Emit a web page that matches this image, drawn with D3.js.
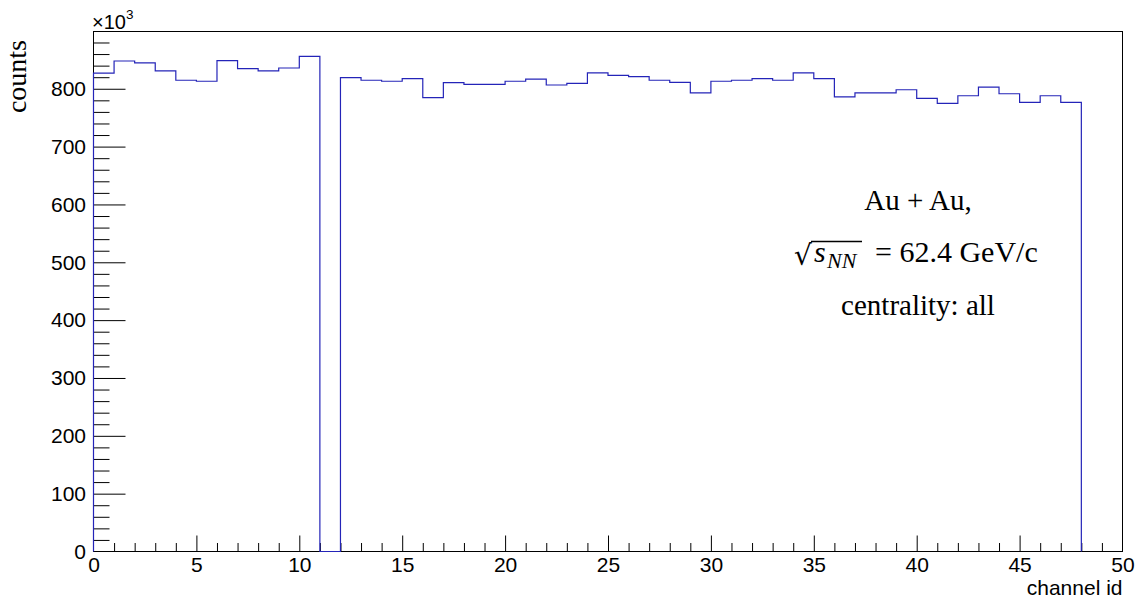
<!DOCTYPE html>
<html>
<head>
<meta charset="utf-8">
<script src="https://cdn.jsdelivr.net/npm/d3@7"></script>
<style>
  html, body { margin: 0; padding: 0; background: #fff; }
  svg { display: block; }
  .tick text { font-family: "Liberation Sans", Arial, sans-serif; font-size: 21px; fill: #000; }
  .tick line { stroke: #000; }
</style>
</head>
<body>
<svg id="chart" width="1141" height="602"></svg>
<script>
// Counts per channel, in units of 10^3 (channel 11 is empty)
const channelCountsK = [
  827, 848, 844.7, 831, 814.7, 813, 848.8, 834.7, 831, 835.9,
  855.9, 0, 819.4, 814.7, 813, 817.6, 784.7, 810.6, 807.6, 807.6,
  813, 816.5, 806.5, 809.4, 827.6, 823, 821, 814.7, 811, 793,
  813, 814.7, 817.6, 814.7, 827.6, 817.6, 785.9, 793, 793, 798.3,
  783.4, 774.7, 787.9, 803, 791.4, 776.5, 787.9, 776.5
];
const xDomain = [0, 50];
const yDomain = [0, 899];
const xMajorTicks = [0, 5, 10, 15, 20, 25, 30, 35, 40, 45, 50];
const yMajorTicks = [0, 100, 200, 300, 400, 500, 600, 700, 800];
const xMinorStep = 1;
const yMinorStep = 20;
const infoLines = ["Au + Au,", "centrality: all"];
const energyText = "= 62.4 GeV/c";

const svg = d3.select("#chart");
const margin = { left: 93.5, top: 31.5, right: 18.5, bottom: 50.5 };
const W = 1141, H = 602;
const innerW = W - margin.left - margin.right;
const innerH = H - margin.top - margin.bottom;

const x = d3.scaleLinear().domain(xDomain).range([0, innerW]);
const y = d3.scaleLinear().domain(yDomain).range([innerH, 0]);

const g = svg.append("g").attr("transform", `translate(${margin.left},${margin.top})`);

// frame
g.append("rect")
  .attr("x", 0).attr("y", 0)
  .attr("width", innerW).attr("height", innerH)
  .attr("fill", "none").attr("stroke", "#000").attr("stroke-width", 1);

// minor ticks
const xMinor = d3.range(xDomain[0], xDomain[1] + 0.001, xMinorStep).filter(v => !xMajorTicks.includes(v));
const yMinor = d3.range(yDomain[0], yDomain[1], yMinorStep).filter(v => !yMajorTicks.includes(v));

g.append("g").attr("transform", `translate(0,${innerH})`)
  .call(d3.axisBottom(x).tickValues(xMinor).tickSize(-8.5).tickFormat(""))
  .call(a => a.select(".domain").remove());
g.append("g")
  .call(d3.axisLeft(y).tickValues(yMinor).tickSize(-16).tickFormat(""))
  .call(a => a.select(".domain").remove());

// major ticks and labels (tick lines lying on the frame are dropped)
g.append("g").attr("transform", `translate(0,${innerH})`)
  .call(d3.axisBottom(x).tickValues(xMajorTicks).tickSize(-16).tickPadding(6).tickFormat(d3.format("d")))
  .call(a => a.select(".domain").remove())
  .call(a => a.selectAll(".tick").filter(d => d === xDomain[0] || d === xDomain[1]).select("line").remove());
g.append("g")
  .call(d3.axisLeft(y).tickValues(yMajorTicks).tickSize(-32).tickPadding(7.5).tickFormat(d3.format("d")))
  .call(a => a.select(".domain").remove())
  .call(a => a.selectAll(".tick").filter(d => d === yDomain[0]).select("line").remove());

// histogram outline
const path = d3.path();
path.moveTo(x(0), y(0));
channelCountsK.forEach((v, i) => {
  path.lineTo(x(i), y(v));
  path.lineTo(x(i + 1), y(v));
});
path.lineTo(x(channelCountsK.length), y(0));
g.append("path")
  .attr("d", path.toString())
  .attr("fill", "none")
  .attr("stroke", "#2424b8")
  .attr("stroke-width", 1.2);

// axis titles
const mult = svg.append("text")
  .attr("x", 92).attr("y", 29)
  .attr("font-family", "Liberation Sans, Arial, sans-serif")
  .attr("font-size", 20);
mult.append("tspan").text("\u00d710");
mult.append("tspan").attr("font-size", 13.5).attr("dy", -10).text("3");

svg.append("text")
  .attr("transform", "translate(25.5,40) rotate(-90)")
  .attr("text-anchor", "end")
  .attr("font-family", "Liberation Serif, Times New Roman, serif")
  .attr("font-size", 28)
  .text("counts");

svg.append("text")
  .attr("x", margin.left + innerW).attr("y", 595)
  .attr("text-anchor", "end")
  .attr("font-family", "Liberation Sans, Arial, sans-serif")
  .attr("font-size", 21)
  .text("channel id");

// collision info
const serif = "Liberation Serif, Times New Roman, serif";
svg.append("text")
  .attr("x", 918).attr("y", 210)
  .attr("text-anchor", "middle")
  .attr("font-family", serif).attr("font-size", 29)
  .text(infoLines[0]);

svg.append("text")
  .attr("x", 918).attr("y", 315)
  .attr("text-anchor", "middle")
  .attr("font-family", serif).attr("font-size", 29)
  .text(infoLines[1]);

// sqrt(s_NN) = 62.4 GeV/c
svg.append("text")
  .attr("x", 794).attr("y", 265)
  .attr("font-family", "DejaVu Serif, serif").attr("font-size", 28)
  .text("\u221a");
svg.append("text")
  .attr("x", 814).attr("y", 262)
  .attr("font-family", serif).attr("font-style", "italic").attr("font-size", 30)
  .text("s");
svg.append("text")
  .attr("x", 827).attr("y", 268)
  .attr("font-family", serif).attr("font-style", "italic").attr("font-size", 22)
  .text("NN");
svg.append("line")
  .attr("x1", 811).attr("x2", 862)
  .attr("y1", 241.5).attr("y2", 241.5)
  .attr("stroke", "#000").attr("stroke-width", 1.3);
svg.append("text")
  .attr("x", 875).attr("y", 262)
  .attr("font-family", serif).attr("font-size", 30)
  .text(energyText);
</script>
</body>
</html>
